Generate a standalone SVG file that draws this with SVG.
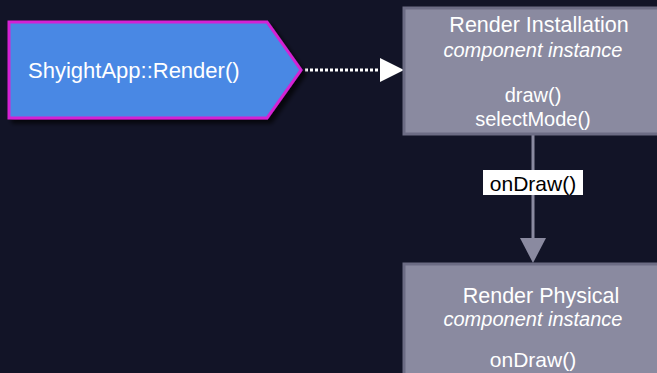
<svg xmlns="http://www.w3.org/2000/svg" width="657" height="373" viewBox="0 0 657 373">
  <style>
    .t { font-family: "Liberation Sans", Arial, sans-serif; fill: #ffffff; }
    .box { fill: #8a8aa0; stroke: #6c6c84; stroke-width: 3; }
    .c { text-anchor: middle; }
    .it { font-style: italic; }
  </style>
  <defs>
    <filter id="shadow" x="-10%" y="-10%" width="130%" height="130%">
      <feGaussianBlur in="SourceAlpha" stdDeviation="2"/>
      <feOffset dx="4" dy="4"/>
      <feComponentTransfer><feFuncA type="linear" slope="0.7"/></feComponentTransfer>
      <feMerge><feMergeNode/><feMergeNode in="SourceGraphic"/></feMerge>
    </filter>
  </defs>
  <rect width="657" height="373" fill="#121427"/>

  <!-- connectors -->
  <g id="connectors">
    <line x1="305" y1="70" x2="380" y2="70" stroke="#ffffff" stroke-width="3" stroke-dasharray="3 2"/>
    <polygon points="380,58 404,70 380,82" fill="#ffffff"/>
    <line x1="533" y1="135" x2="533" y2="240" stroke="#8a8aa0" stroke-width="3"/>
    <polygon points="520,238 546,238 533,263" fill="#8a8aa0"/>
    <rect x="483" y="170" width="100" height="25" fill="#ffffff"/>
    <text x="533" y="190.5" font-size="21" class="c" font-family="Liberation Sans, Arial, sans-serif" fill="#000000">onDraw()</text>
  </g>

  <!-- caller -->
  <g id="render-call">
    <polygon points="9,22 267,22 301,70 267,118 9,118" fill="#4a88e4" stroke="#d423d4" stroke-width="3" filter="url(#shadow)"/>
    <text x="28" y="78" font-size="22" class="t">ShyightApp::Render()</text>
  </g>

  <!-- installation component -->
  <g id="render-installation">
    <rect x="404" y="8" width="262" height="126" class="box"/>
    <text x="539" y="32" font-size="21.5" class="t c">Render Installation</text>
    <text x="533" y="57" font-size="20" class="t c it">component instance</text>
    <text x="533" y="102" font-size="20" class="t c">draw()</text>
    <text x="533" y="126" font-size="20" class="t c">selectMode()</text>
  </g>

  <!-- physical component -->
  <g id="render-physical">
    <rect x="404" y="264" width="262" height="120" class="box"/>
    <text x="541" y="303" font-size="21.5" class="t c">Render Physical</text>
    <text x="533" y="326" font-size="20" class="t c it">component instance</text>
    <text x="533" y="367" font-size="21" class="t c">onDraw()</text>
  </g>
</svg>
